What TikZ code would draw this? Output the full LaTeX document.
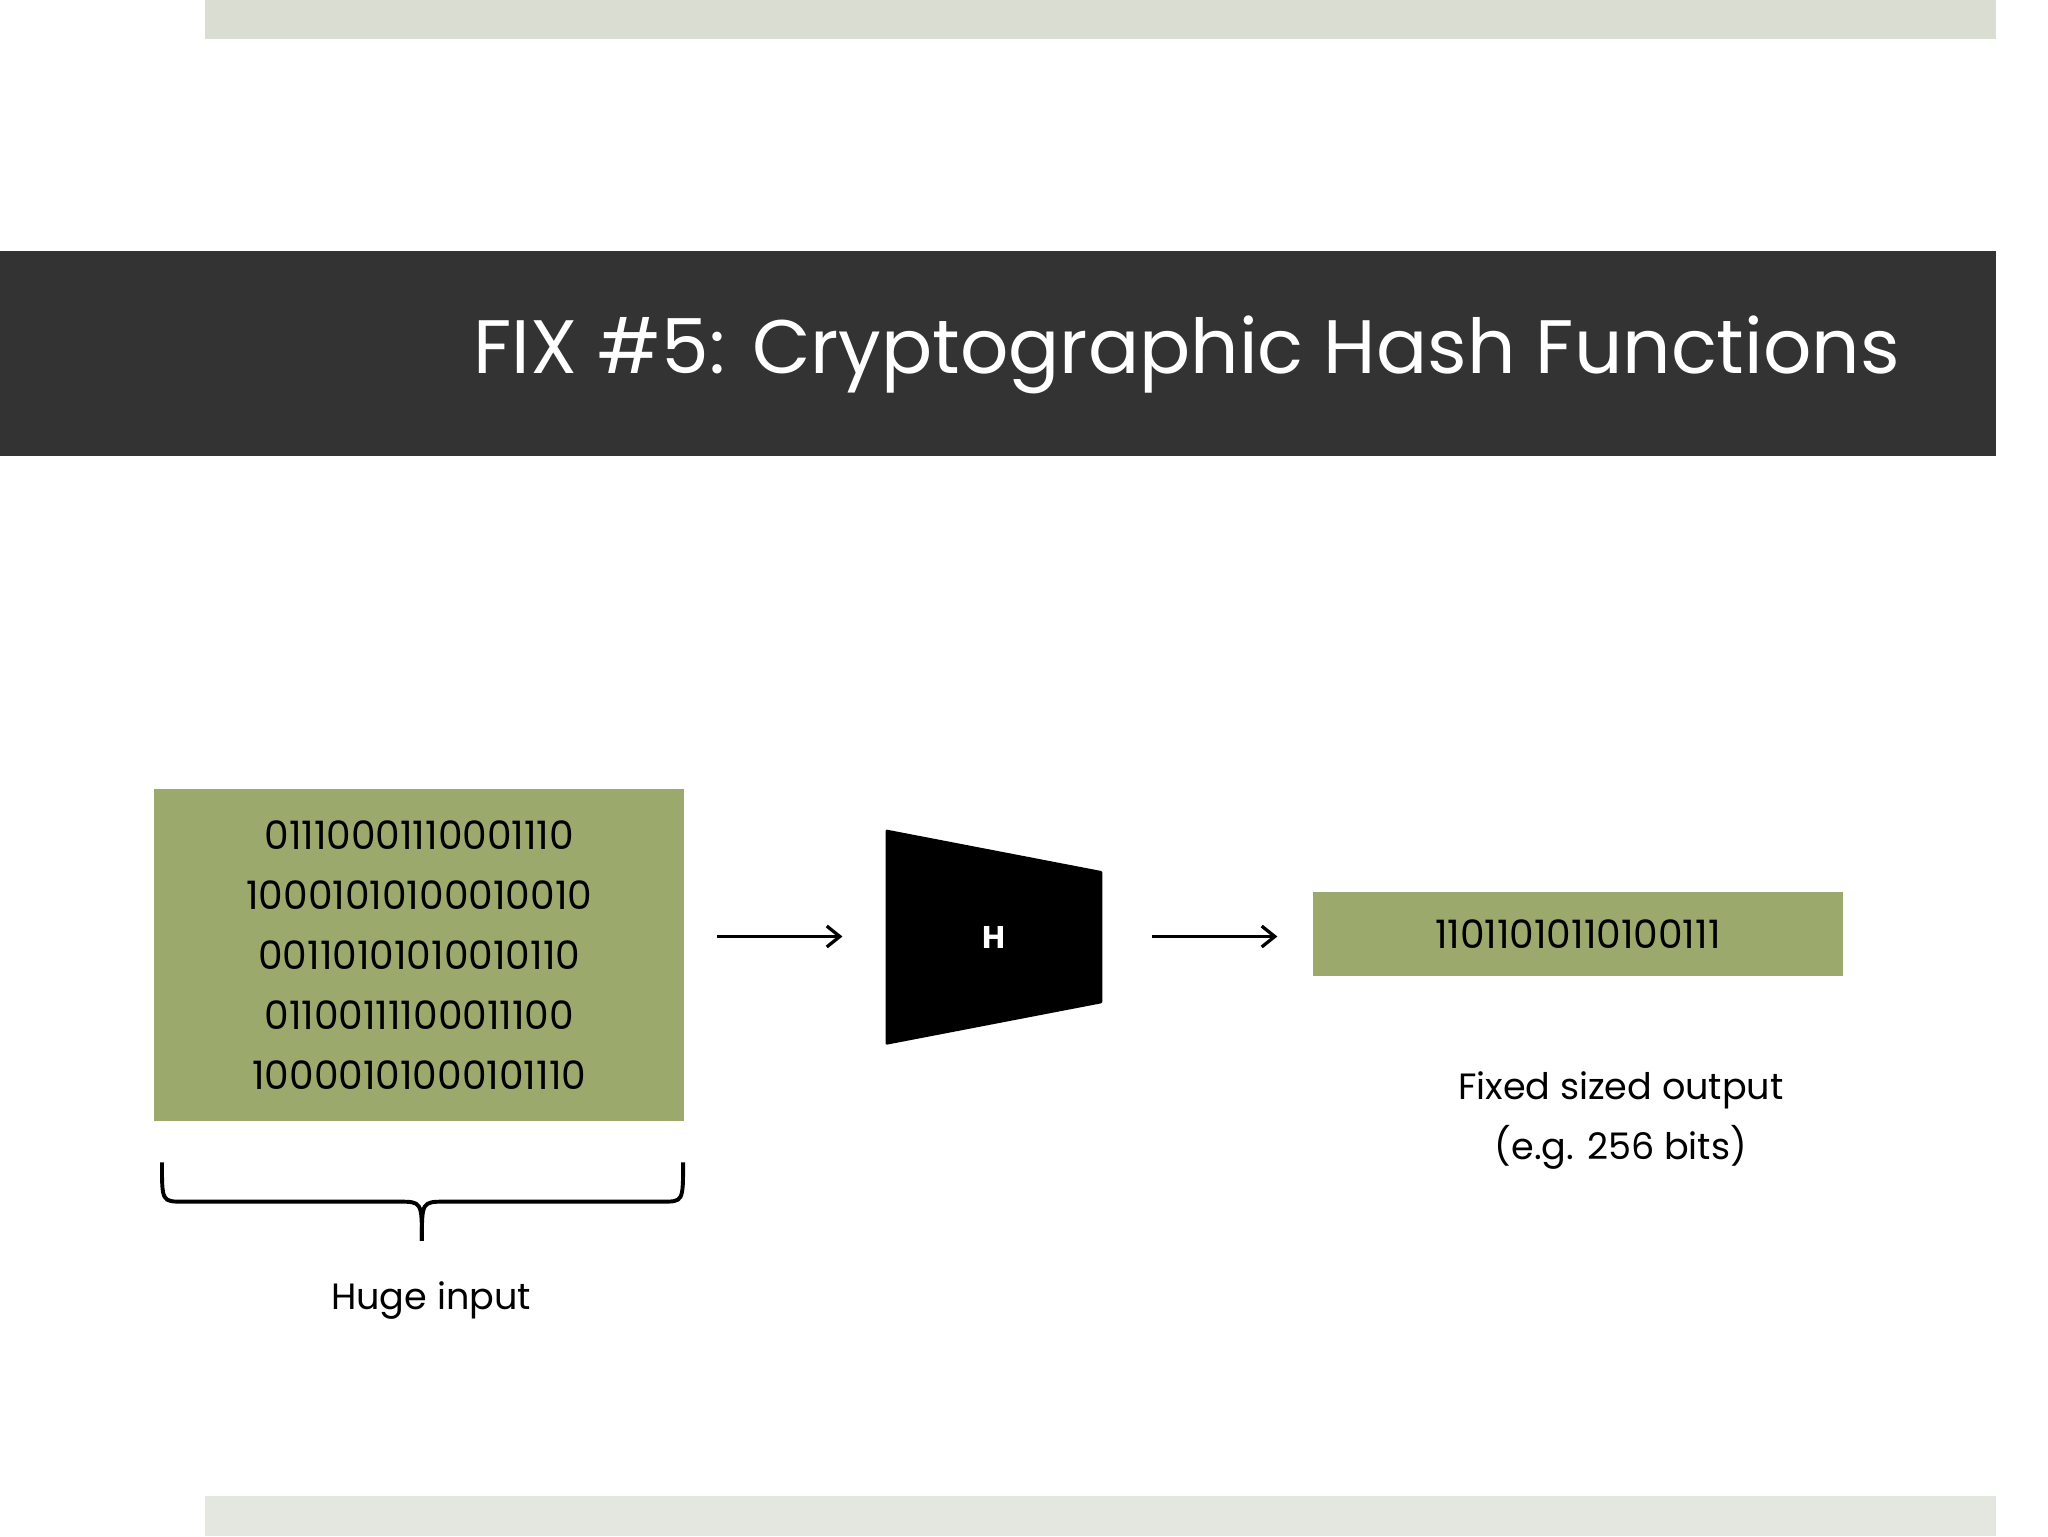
\documentclass[tikz,border=0pt]{standalone}
\usepackage{fontspec}
\setmainfont{Poppins}
\usetikzlibrary{arrows.meta}
\definecolor{bar}{HTML}{D9DDD2}
\definecolor{dark}{HTML}{333333}
\definecolor{grn}{HTML}{9BAA6C}
\tikzset{bits/.style={font=\fontsize{30}{46}\selectfont,align=center,inner sep=0},
 lbl/.style={font=\fontsize{28}{46}\selectfont,align=center,inner sep=0},
 arr/.style={-{Straight Barb[length=10pt,width=16pt]},line width=2.5pt}}
\begin{document}
\begin{tikzpicture}[x=1pt,y=-1pt]
\useasboundingbox (0,0) rectangle (1568,1176);
\fill[bar] (157,0) rectangle (1528,30);
\fill[bar!70!white] (157,1145) rectangle (1528,1176);
\fill[dark] (0,192) rectangle (1528,349);
\node[anchor=east,text=white,font=\fontsize{58}{60}\selectfont\addfontfeature{}] (title) at (1458,272) {FIX \#5: Cryptographic Hash Functions};
\node[fill=grn,minimum width=406pt,minimum height=254pt,inner sep=0] (in) at (321,731) {};
\node[bits] (inbits) at (321,731) {01110001110001110\\10001010100010010\\00110101010010110\\01100111100011100\\10000101000101110};
\fill[black,rounded corners=1pt] (678,635) -- (844,667) -- (844,768) -- (678,800) -- cycle;
\node[text=white,font=\bfseries\fontsize{24}{24}\selectfont] (H) at (761,718) {H};
\node[fill=grn,minimum width=406pt,minimum height=64pt,inner sep=0] (out) at (1208,715) {};
\node[bits] (outbits) at (1208,715) {11011010110100111};
\coordinate (a1) at (549,717); \coordinate (a2) at (645,717);
\coordinate (b1) at (882,717); \coordinate (b2) at (978,717);
\draw[arr] (a1) -- (a2);
\draw[arr] (b1) -- (b2);
\draw[line width=3pt] (124,890) .. controls (124,920) .. (140,920) -- (305,920) .. controls (323,920) .. (323,950);
\draw[line width=3pt] (523,890) .. controls (523,920) .. (507,920) -- (341,920) .. controls (323,920) .. (323,950);
\node[lbl] (huge) at (330,996) {Huge input};
\node[lbl] (fixed) at (1241,858) {Fixed sized output\\(e.g. 256 bits)};
\end{tikzpicture}
\end{document}
